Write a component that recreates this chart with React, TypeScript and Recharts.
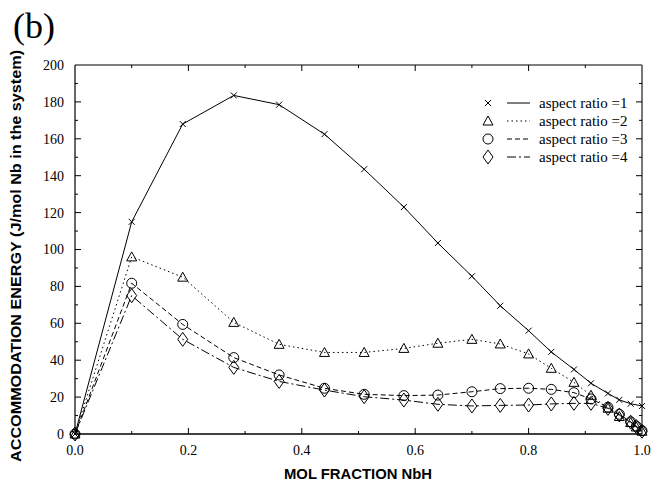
import React from "react";
import { LineChart, Line, XAxis, YAxis, ReferenceLine } from "recharts";

// ---- data ----
const molFraction = [0, 0.1, 0.19, 0.28, 0.36, 0.44, 0.51, 0.58, 0.64, 0.7, 0.75, 0.8, 0.84, 0.88, 0.91, 0.94, 0.96, 0.98, 0.99, 1.0];
const ratio1 = [0, 115, 168, 183.5, 178.5, 162.5, 143.5, 123, 103.5, 85.5, 69.5, 56, 44.5, 35, 27.5, 22, 18.5, 16.4, null, 15.2];
const ratio2 = [0, 96, 85, 60.5, 48.6, 44.2, 44.2, 46.4, 49.2, 51.3, 48.8, 43.4, 35.6, 28, 21, 14, 9.5, 6.2, 3.8, 1.5];
const ratio3 = [0, 81.7, 59.4, 41.4, 32, 24.8, 21.5, 20.8, 21.1, 22.9, 24.6, 24.8, 24.2, 22.4, 19, 14.5, 10.7, 6.6, 4.2, 1.8];
const ratio4 = [0, 75, 51.3, 36.1, 28.5, 23.8, 20.2, 18.4, 16.1, 15.2, 15.5, 15.7, 16.3, 16.6, 16.6, 13.9, 10.3, 6.4, 4, 1.5];

const seriesNames = ["aspect ratio =1", "aspect ratio =2", "aspect ratio =3", "aspect ratio =4"];
const xTicks = [0, 0.1, 0.2, 0.3, 0.4, 0.5, 0.6, 0.7, 0.8, 0.9, 1.0];
const yTicks = [0, 10, 20, 30, 40, 50, 60, 70, 80, 90, 100, 110, 120, 130, 140, 150, 160, 170, 180, 190, 200];

const yTitle = "ACCOMMODATION ENERGY (J/mol Nb in the system)";
const xTitle = "MOL FRACTION NbH";
const panelLabel = "(b)";

// ---- layout ----
const W = 651;
const H = 491;
const MARGIN = { top: 65, right: 9, left: 30, bottom: 27 };
const Y_AXIS_W = 45;
const X_AXIS_H = 30;
const PLOT_W = W - MARGIN.left - MARGIN.right - Y_AXIS_W;
const PLOT_H = H - MARGIN.top - MARGIN.bottom - X_AXIS_H;
const TM = 10;
const SERIF = "'Liberation Serif', 'DejaVu Serif', serif";
const SANS = "'Liberation Sans', Arial, sans-serif";

const build = (vals: (number | null)[]) => molFraction.map((x, i) => ({ x, y: vals[i] }));
const data1 = build(ratio1);
const data2 = build(ratio2);
const data3 = build(ratio3);
const data4 = build(ratio4);

const dashes = [undefined, "1.5 3", "5 3", "9 3 2 3"];

type Kind = 0 | 1 | 2 | 3;
const Marker = ({ cx, cy, kind }: { cx: number; cy: number; kind: Kind }) => {
  const s = { stroke: "#000", strokeWidth: 1, fill: "none" };
  if (kind === 0)
    return (
      <g>
        <line x1={cx - 3} y1={cy - 3} x2={cx + 3} y2={cy + 3} {...s} />
        <line x1={cx - 3} y1={cy + 3} x2={cx + 3} y2={cy - 3} {...s} />
      </g>
    );
  if (kind === 1)
    return <polygon points={`${cx},${cy - 5} ${cx - 5},${cy + 4} ${cx + 5},${cy + 4}`} {...s} />;
  if (kind === 2) return <circle cx={cx} cy={cy} r={5} {...s} />;
  return <polygon points={`${cx},${cy - 7} ${cx + 5},${cy} ${cx},${cy + 7} ${cx - 5},${cy}`} {...s} />;
};

const makeDot = (kind: Kind) => (props: any) => {
  const { cx, cy, index, payload } = props;
  if (cx == null || cy == null || payload == null || payload.y == null) return <g key={`d${kind}-${index}`} />;
  return (
    <g key={`d${kind}-${index}`}>
      <Marker cx={cx} cy={cy} kind={kind} />
    </g>
  );
};

const YTick = (props: any) => {
  const { x, y, payload } = props;
  const v = payload.value;
  const major = v % 20 === 0;
  const ax = x + TM;
  const len = major ? 6 : 3;
  return (
    <g>
      {v !== 0 && v !== 200 && (
        <>
          <line x1={ax} x2={ax + len} y1={y} y2={y} stroke="#000" strokeWidth={1} />
          <line x1={ax + PLOT_W} x2={ax + PLOT_W - len} y1={y} y2={y} stroke="#000" strokeWidth={1} />
        </>
      )}
      {major && (
        <text x={x - 1} y={y} dy="0.35em" textAnchor="end" fontFamily={SERIF} fontSize={14} fill="#000">
          {v}
        </text>
      )}
    </g>
  );
};

const XTick = (props: any) => {
  const { x, y, payload } = props;
  const v = payload.value;
  const major = Math.round(v * 10) % 2 === 0;
  const ay = y - TM;
  const len = major ? 6 : 3;
  return (
    <g>
      {v !== 0 && v !== 1 && (
        <>
          <line x1={x} x2={x} y1={ay} y2={ay - len} stroke="#000" strokeWidth={1} />
          <line x1={x} x2={x} y1={ay - PLOT_H} y2={ay - PLOT_H + len} stroke="#000" strokeWidth={1} />
        </>
      )}
      {major && (
        <text x={x} y={y} dy="0.75em" textAnchor="middle" fontFamily={SERIF} fontSize={14} fill="#000">
          {v.toFixed(1)}
        </text>
      )}
    </g>
  );
};

const LegendBox = () => (
  <g transform="translate(480, 93)">
    {seriesNames.map((name, i) => {
      const cy = 10 + i * 18;
      return (
        <g key={name}>
          <Marker cx={8} cy={cy} kind={i as Kind} />
          <line x1={27} x2={50} y1={cy} y2={cy} stroke="#000" strokeWidth={1} strokeDasharray={dashes[i]} />
          <text x={59} y={cy} dy="0.35em" fontFamily={SERIF} fontSize={15} fill="#000">
            {name}
          </text>
        </g>
      );
    })}
  </g>
);

export default function App() {
  const all = [data1, data2, data3, data4];
  return (
    <div style={{ position: "absolute", left: 0, top: 0, width: W, height: H, background: "#fff" }}>
      <LineChart width={W} height={H} margin={MARGIN}>
        <XAxis
          type="number"
          dataKey="x"
          domain={[0, 1]}
          ticks={xTicks}
          interval={0}
          tickSize={0}
          tickMargin={TM}
          tick={<XTick />}
          height={X_AXIS_H}
          axisLine={{ stroke: "#000", strokeWidth: 1.6 }}
          tickLine={false}
        />
        <YAxis
          type="number"
          domain={[0, 200]}
          ticks={yTicks}
          interval={0}
          tickSize={0}
          tickMargin={TM}
          tick={<YTick />}
          width={Y_AXIS_W}
          axisLine={{ stroke: "#000", strokeWidth: 1.2 }}
          tickLine={false}
        />
        <ReferenceLine y={200} stroke="#000" strokeWidth={1.2} />
        <ReferenceLine x={1} stroke="#555" strokeWidth={1.6} />
        {all.map((d, i) => (
          <Line
            key={seriesNames[i]}
            data={d}
            dataKey="y"
            name={seriesNames[i]}
            type="linear"
            stroke="#000"
            strokeWidth={1}
            strokeDasharray={dashes[i]}
            dot={makeDot(i as Kind)}
            activeDot={false}
            connectNulls
            isAnimationActive={false}
          />
        ))}
      </LineChart>
      <svg width={W} height={H} style={{ position: "absolute", left: 0, top: 0, pointerEvents: "none" }}>
        <LegendBox />
        <text x={13} y={38} fontFamily={SERIF} fontSize={36} fill="#000">
          {panelLabel}
        </text>
        <text
          x={0}
          y={0}
          transform={`translate(21, 256) rotate(-90)`}
          textAnchor="middle"
          fontFamily={SANS}
          fontWeight="bold"
          fontSize={14}
          textLength={412}
          lengthAdjust="spacingAndGlyphs"
          fill="#000"
        >
          {yTitle}
        </text>
        <text
          x={358}
          y={479}
          textAnchor="middle"
          fontFamily={SANS}
          fontWeight="bold"
          fontSize={14}
          textLength={148}
          lengthAdjust="spacingAndGlyphs"
          fill="#000"
        >
          {xTitle}
        </text>
      </svg>
    </div>
  );
}
